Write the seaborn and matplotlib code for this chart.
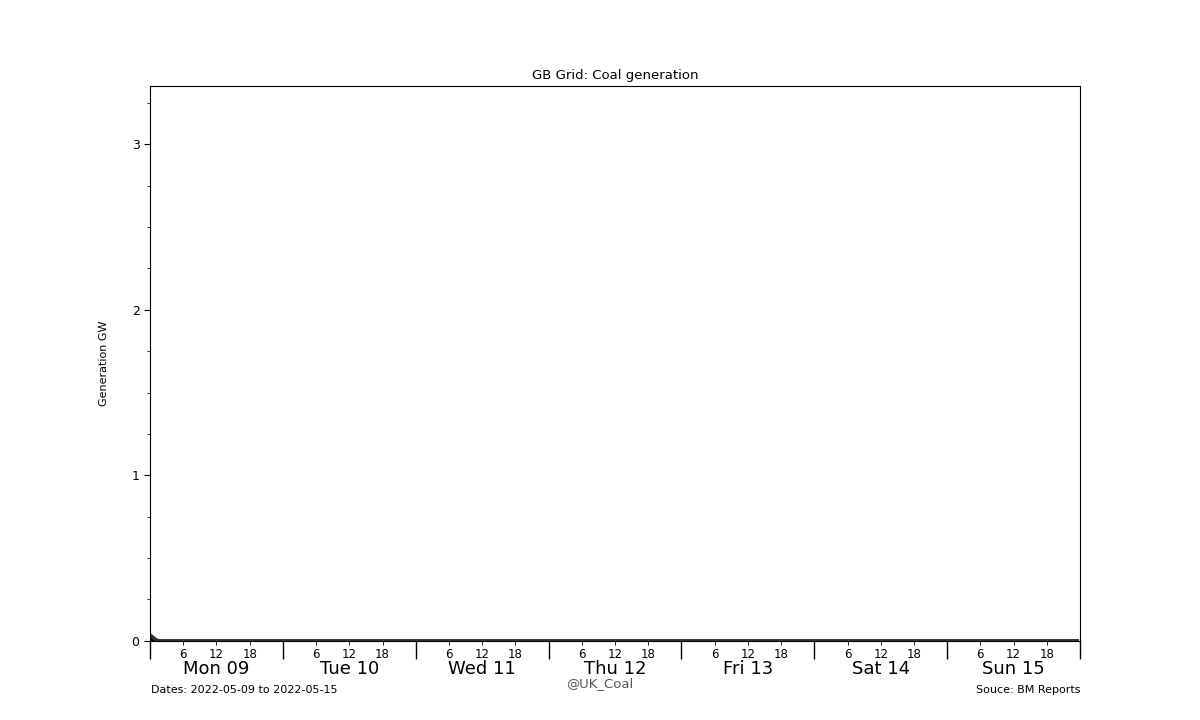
import pandas as pd
import numpy as np
import matplotlib
matplotlib.use("Agg")
import matplotlib.pyplot as plt
import matplotlib.dates as mdates
from matplotlib.ticker import MultipleLocator
import seaborn as sns

# half-hourly coal output (GW), 2022-05-09 .. 2022-05-15
start = "2022-05-09"
end = "2022-05-15"
first_values = [0.036, 0.022, 0.008]
coal_gw = first_values + [0.0] * (7 * 48 - len(first_values))
day_labels = ["Mon 09", "Tue 10", "Wed 11", "Thu 12", "Fri 13", "Sat 14", "Sun 15"]

times = pd.date_range(start, periods=len(coal_gw), freq="30min")
df = pd.DataFrame({"time": times, "coal": coal_gw})

fig, ax = plt.subplots(figsize=(12, 7.2), dpi=100)

ax.fill_between(df["time"], 0, df["coal"], color="black", lw=0)
sns.lineplot(data=df, x="time", y="coal", ax=ax, color="#333333", lw=2.5)

x0 = pd.Timestamp(start)
x1 = pd.Timestamp(end) + pd.Timedelta(days=1)
ax.set_xlim(x0, x1)
ax.set_ylim(0, 3.35)

ax.set_title("GB Grid: Coal generation", fontsize=9.5, pad=5)
ax.set_ylabel("Generation GW", fontsize=8, labelpad=16)
ax.set_xlabel("")

ax.yaxis.set_major_locator(MultipleLocator(1))
ax.yaxis.set_minor_locator(MultipleLocator(0.25))
ax.tick_params(axis="y", which="major", length=4, labelsize=9)
ax.tick_params(axis="y", which="minor", length=2)

ax.xaxis.set_major_locator(mdates.DayLocator())
ax.xaxis.set_major_formatter(plt.NullFormatter())
ax.xaxis.set_minor_locator(mdates.HourLocator(byhour=[6, 12, 18]))
ax.xaxis.set_minor_formatter(mdates.DateFormatter("%-H"))
ax.tick_params(axis="x", which="major", length=13, width=1)
ax.tick_params(axis="x", which="minor", length=3, labelsize=8.5, pad=2)

trans = matplotlib.transforms.blended_transform_factory(ax.transData, ax.transAxes)
for i, lab in enumerate(day_labels):
    xd = mdates.date2num(x0 + pd.Timedelta(days=i, hours=12))
    ax.text(xd, -0.05, lab, transform=trans, ha="center", va="center", fontsize=13)

fig.text(0.126, 0.041, f"Dates: {start} to {end}", fontsize=8, ha="left", va="center")
fig.text(0.9, 0.041, "Souce: BM Reports", fontsize=8, ha="right", va="center")
fig.text(0.5, 0.051, "@UK_Coal", fontsize=9.5, ha="center", va="center", color="#555555")

fig.savefig("out.png", dpi=100)
